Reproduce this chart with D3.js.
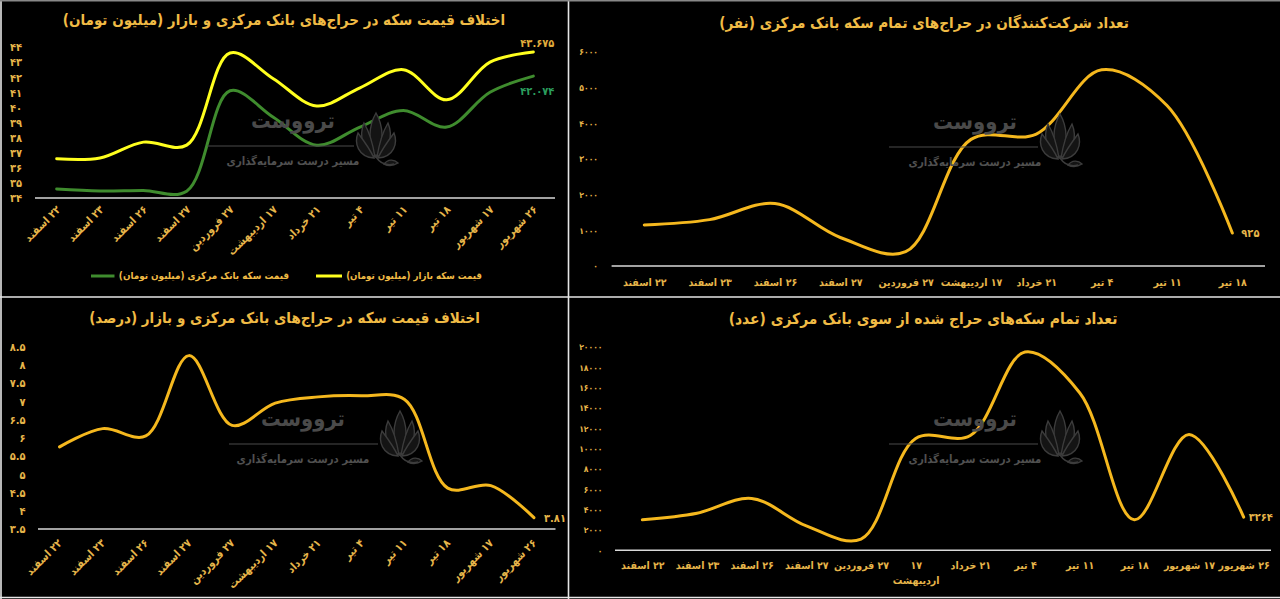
<!DOCTYPE html>
<html><head><meta charset="utf-8">
<script src="https://cdn.jsdelivr.net/npm/d3@7"></script>
<style>
body{margin:0;background:#000;}
svg{display:block;}
text{font-family:"DejaVu Sans Condensed","DejaVu Sans", sans-serif;}
</style></head><body>
<svg id="c" width="1280" height="599"></svg>
<script>
// ---------- data ----------
const dates12 = ["۲۲ اسفند","۲۳ اسفند","۲۶ اسفند","۲۷ اسفند","۲۷ فروردین","۱۷ اردیبهشت","۲۱ خرداد","۴ تیر","۱۱ تیر","۱۸ تیر","۱۷ شهریور","۲۶ شهریور"];
const dates10 = ["۲۲ اسفند","۲۳ اسفند","۲۶ اسفند","۲۷ اسفند","۲۷ فروردین","۱۷ اردیبهشت","۲۱ خرداد","۴ تیر","۱۱ تیر","۱۸ تیر"];
const marketPrice = [36.6,36.65,37.7,37.5,43.6,41.9,40.1,41.3,42.5,40.5,43.0,43.675];
const bankPrice   = [34.6,34.47,34.5,34.45,41.1,39.35,37.5,38.7,39.8,38.7,41.0,42.074];
const participants = [1150,1300,1750,800,400,3550,3700,5500,4500,925];
const diffPercent = [5.75,6.25,6.05,8.25,6.34,6.95,7.12,7.15,7.05,4.62,4.69,3.81];
const coinsSold = [3000,3650,5100,2400,1100,11000,11300,19500,15500,3000,11400,3264];

const ticksPrice = [34,35,36,37,38,39,40,41,42,43,44];
const ticksParticipants = [0,1000,2000,3000,4000,5000,6000];
const ticksPercent = [3.5,4,4.5,5,5.5,6,6.5,7,7.5,8,8.5];
const ticksCoins = [0,2000,4000,6000,8000,10000,12000,14000,16000,18000,20000];

const titlePrice = "اختلاف قیمت سکه در حراج‌های بانک مرکزی و بازار (میلیون تومان)";
const titleParticipants = "تعداد شرکت‌کنندگان در حراج‌های تمام سکه بانک مرکزی (نفر)";
const titlePercent = "اختلاف قیمت سکه در حراج‌های بانک مرکزی و بازار (درصد)";
const titleCoins = "تعداد تمام سکه‌های حراج شده از سوی بانک مرکزی (عدد)";
const legendBank = "قیمت سکه بانک مرکزی (میلیون تومان)";
const legendMarket = "قیمت سکه بازار (میلیون تومان)";
const brandName = "ترووست";
const brandSlogan = "مسیر درست سرمایه‌گذاری";

// ---------- helpers ----------
const FONT = '"DejaVu Sans Condensed","DejaVu Sans", sans-serif';
const fa = s => String(s).replace(/\d/g, d => "۰۱۲۳۴۵۶۷۸۹"[+d]);
const svg = d3.select("#c");
svg.append("rect").attr("width",1280).attr("height",599).attr("fill","#000");

const GOLD = "#f5b81e", TITLE = "#f0bb45", TICK = "#e6b54a";

function fitText(sel, w, maxSize, minSize) {
  const n = sel.node();
  const fs = parseFloat(sel.attr("font-size"));
  const len = n.getComputedTextLength();
  let s = fs * w / len;
  if (maxSize) s = Math.min(s, maxSize);
  if (minSize) s = Math.max(s, minSize);
  sel.attr("font-size", s);
}

function watermark(cx, cy, lineX0, lineX1) {
  const g = svg.append("g");
  const t = g.append("text").attr("x", cx - 15).attr("y", cy - 12).attr("direction","rtl")
    .attr("text-anchor","middle").attr("font-size",28).attr("font-weight","bold")
    .attr("fill","#4a4a4a").text(brandName);
  fitText(t, 84, 32);
  g.append("line").attr("x1", lineX0).attr("x2", lineX1).attr("y1", cy + 6).attr("y2", cy + 6)
    .attr("stroke","#4a4a4a").attr("stroke-width",1.2);
  const s = g.append("text").attr("x", cx - 15).attr("y", cy + 25).attr("direction","rtl")
    .attr("text-anchor","middle").attr("font-size",13).attr("font-weight","bold")
    .attr("fill","#505050").text(brandSlogan);
  fitText(s, 133, 15);
  const lf = g.append("g").attr("transform", `translate(${lineX1 + 22},${cy - 1})`)
    .attr("fill","#141414").attr("stroke","#3c3c3c").attr("stroke-width",1.4);
  ["M0,18 C-9,4 -7,-14 0,-26 C7,-14 9,4 0,18Z",
   "M-1,18 C-14,12 -17,-4 -12,-16 C-6,-6 -3,6 -1,18Z",
   "M1,18 C14,12 17,-4 12,-16 C6,-6 3,6 1,18Z",
   "M-2,19 C-18,18 -22,4 -18,-6 C-12,2 -6,10 -2,19Z",
   "M2,19 C18,18 22,4 18,-6 C12,2 6,10 2,19Z",
   "M8,25 C12,20 18,20 22,24 C17,27 12,27 8,25Z"].forEach(d => lf.append("path").attr("d", d));
  lf.append("path").attr("d","M0,18 C4,24 10,27 18,25").attr("fill","none");
}

function panel(p) {
  const g = svg.append("g");
  const x = d3.scalePoint().domain(p.categories).range(p.xr).padding(0.5);
  const y = d3.scaleLinear().domain(p.yDomain).range(p.yRange);

  // title
  const t = g.append("text").attr("x", p.title[1]).attr("y", p.title[2]).attr("direction","rtl")
    .attr("text-anchor","middle").attr("dy","0.35em").attr("font-size",17).attr("font-weight","bold")
    .attr("fill",TITLE).text(p.title[0]);
  fitText(t, p.title[3], 18.5, 15);

  // y axis labels
  const ya = g.append("g").attr("transform",`translate(${p.tickRight},0)`)
    .call(d3.axisLeft(y).tickValues(p.ticks).tickSize(0).tickPadding(0).tickFormat(d => fa(d)));
  ya.select(".domain").remove();
  ya.selectAll("text").attr("font-family",FONT).attr("font-size",p.tickSize)
    .attr("font-weight","bold").attr("fill",TICK).attr("dy","0.35em");

  // x axis labels
  const xa = g.append("g").attr("transform",`translate(0,${p.labelY})`)
    .call(d3.axisBottom(x).tickSize(0).tickPadding(0));
  xa.select(".domain").remove();
  const xt = xa.selectAll("text").attr("font-family",FONT)
    .attr("font-size",p.xSize).attr("font-weight","bold").attr("fill",TICK).attr("direction","rtl");
  if (p.rotate) {
    xt.attr("y",0).attr("x",p.rotDx).attr("dy","0.35em").attr("text-anchor","start")
      .attr("transform","rotate(-45)");
  } else {
    xt.attr("y",0).attr("dy","0.35em").attr("text-anchor","middle");
    if (p.wrap) xt.each(function(d){
      if (d.length > 10) {
        const parts = d.split(" ");
        const el = d3.select(this).text(null);
        el.append("tspan").attr("x",0).attr("dy","0.35em").text(parts[0]);
        el.append("tspan").attr("x",0).attr("dy","1.5em").text(parts.slice(1).join(" "));
      }
    });
  }

  // baseline
  g.append("line").attr("x1",p.xr[0]).attr("x2",p.xr[1])
    .attr("y1",y(p.yDomain[0])).attr("y2",y(p.yDomain[0]))
    .attr("stroke","#d8d8d8").attr("stroke-width",1.6);

  watermark(...p.wm);

  // series
  p.series.forEach(s => {
    const line = d3.line().x((d,i) => x(p.categories[i])).y(d => y(d)).curve(d3.curveCatmullRom.alpha(0.5));
    g.append("path").attr("d", line(s.values)).attr("fill","none").attr("stroke",s.color)
      .attr("stroke-width",3).attr("stroke-linecap","round");
    const n = s.values.length - 1;
    g.append("text").attr("x", x(p.categories[n]) + s.lab[0]).attr("y", y(s.values[n]) + s.lab[1])
      .attr("dy","0.35em").attr("text-anchor",s.lab[2]).attr("font-size",s.lab[3]).attr("font-weight","bold")
      .attr("fill",s.labColor).text(fa(s.values[n]));
  });
  return {g, x, y};
}

// ---------- panels ----------
panel({
  categories: dates12, xr:[35,555], yDomain:[34,44], yRange:[198,47], ticks: ticksPrice,
  tickRight:22, tickSize:11, labelY:209, rotate:true, rotDx:2, xSize:11,
  title:[titlePrice, 284, 20, 415],
  wm:[308, 140, 207, 354],
  series:[
    {values: marketPrice, color:"#ffff1e", labColor:"#e0ad3c", lab:[4,-9,"middle",11]},
    {values: bankPrice, color:"#3f8c2e", labColor:"#2a9d5c", lab:[4,15,"middle",11]}
  ]
});
panel({
  categories: dates10, xr:[611.6,1265], yDomain:[0,6000], yRange:[266,52], ticks: ticksParticipants,
  tickRight:598, tickSize:8.5, labelY:282, rotate:false, wrap:false, xSize:10.5,
  title:[titleParticipants, 924, 23, 410],
  wm:[990, 141, 889, 1038],
  series:[{values: participants, color:GOLD, labColor:TICK, lab:[9,0,"start",11]}]
});
panel({
  categories: dates12, xr:[38,555.5], yDomain:[3.5,8.5], yRange:[529,346.5], ticks: ticksPercent,
  tickRight:25.5, tickSize:11, labelY:541, rotate:true, rotDx:0, xSize:11,
  title:[titlePercent, 284.5, 318, 391],
  wm:[318, 438, 229, 378],
  series:[{values: diffPercent, color:GOLD, labColor:TICK, lab:[32,0,"end",11]}]
});
panel({
  categories: dates12, xr:[615,1271], yDomain:[0,20000], yRange:[550.3,347], ticks: ticksCoins,
  tickRight:602.5, tickSize:8.5, labelY:565, rotate:false, wrap:true, xSize:10.5,
  title:[titleCoins, 923, 319, 389],
  wm:[990, 438, 889, 1038],
  series:[{values: coinsSold, color:GOLD, labColor:TICK, lab:[5,0,"start",11]}]
});

// legend (panel 1)
const leg = svg.append("g");
[[legendBank, "#3f8c2e", 91, 114.5, 289], [legendMarket, "#ffff1e", 316, 342, 482]].forEach(([txt,c,a,b,r]) => {
  leg.append("line").attr("x1",a).attr("x2",b).attr("y1",276).attr("y2",276).attr("stroke",c).attr("stroke-width",3);
  const t = leg.append("text").attr("x",r).attr("y",276).attr("dy","0.35em").attr("direction","rtl")
    .attr("text-anchor","start").attr("font-size",12).attr("font-weight","bold").attr("fill",TITLE).text(txt);
  fitText(t, r - b - 4, 13);
});

// frame lines
const fr = svg.append("g").attr("stroke","#e6e6e6").attr("stroke-width",1.6);
fr.append("line").attr("x1",568.5).attr("x2",568.5).attr("y1",0).attr("y2",599);
fr.append("line").attr("x1",0).attr("x2",1280).attr("y1",297).attr("y2",297);
fr.append("line").attr("x1",1).attr("x2",1).attr("y1",0).attr("y2",599);
fr.append("line").attr("x1",0).attr("x2",1280).attr("y1",597.5).attr("y2",597.5);
fr.append("line").attr("x1",0).attr("x2",1280).attr("y1",0.8).attr("y2",0.8).attr("stroke","#888");
</script>
</body></html>
